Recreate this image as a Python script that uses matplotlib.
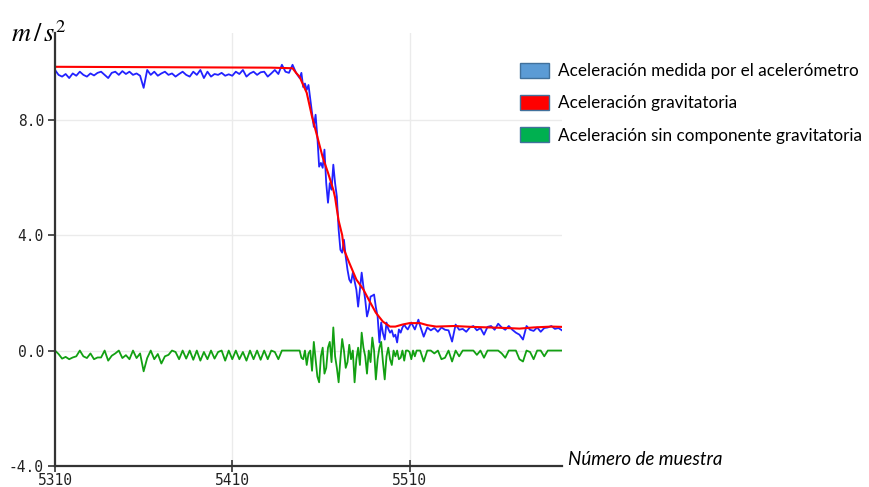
import matplotlib
matplotlib.use('Agg')
import matplotlib.pyplot as plt
from matplotlib.patches import Patch
from matplotlib.ticker import FormatStrFormatter

# sample numbers / values
blue_x = [5310, 5312, 5314, 5316, 5318, 5320, 5322, 5324, 5326, 5328,
          5330, 5332, 5334, 5336, 5338, 5340, 5342, 5344, 5346, 5348,
          5350, 5352, 5354, 5356, 5358, 5360, 5362, 5364, 5366, 5368,
          5370, 5372, 5374, 5376, 5378, 5380, 5382, 5384, 5386, 5388,
          5390, 5392, 5394, 5396, 5398, 5400, 5402, 5404, 5406, 5408,
          5410, 5412, 5414, 5416, 5418, 5420, 5422, 5424, 5426, 5428,
          5430, 5432, 5434, 5436, 5438, 5440, 5442, 5444, 5446,
          5448, 5449, 5450, 5451, 5452, 5453, 5454, 5455, 5456, 5457,
          5458, 5459, 5460, 5461, 5462, 5463, 5464, 5465, 5466, 5467,
          5468, 5469, 5470, 5471, 5472, 5473, 5474, 5475, 5476, 5477,
          5478, 5479, 5480, 5481, 5482, 5483, 5484, 5485, 5486, 5487,
          5488, 5489, 5490, 5491, 5492, 5493, 5494, 5495, 5496, 5497,
          5498, 5499, 5500, 5501, 5502, 5503, 5504, 5505, 5506, 5507,
          5508, 5509, 5510, 5511, 5512, 5513, 5514, 5515,
          5516, 5518, 5520, 5522, 5524, 5526, 5528, 5530, 5532, 5534,
          5536, 5538, 5540, 5542, 5544, 5546, 5548, 5550, 5552, 5554,
          5556, 5558, 5560, 5562, 5564, 5566, 5568, 5570, 5572, 5574,
          5576, 5578, 5580, 5582, 5584, 5586, 5588, 5590, 5592, 5594, 5596]
blue_y = [9.72, 9.55, 9.49, 9.58, 9.44, 9.60, 9.52, 9.66, 9.55, 9.49,
          9.60, 9.53, 9.62, 9.66, 9.55, 9.44, 9.62, 9.66, 9.55, 9.68,
          9.58, 9.66, 9.55, 9.60, 9.52, 9.10, 9.72, 9.55, 9.66, 9.52,
          9.60, 9.66, 9.55, 9.60, 9.49, 9.58, 9.66, 9.55, 9.49, 9.66,
          9.55, 9.72, 9.44, 9.66, 9.49, 9.58, 9.55, 9.62, 9.52, 9.57,
          9.52, 9.66, 9.58, 9.72, 9.49, 9.60, 9.66, 9.55, 9.64, 9.66,
          9.49, 9.60, 9.72, 9.58, 9.90, 9.66, 9.62, 9.90, 9.62,
          9.44, 9.62, 9.13, 9.25, 9.03, 9.20, 8.70, 8.23, 7.75, 8.17,
          7.40, 6.37, 6.50, 6.33, 6.96, 5.80, 5.12, 5.80, 5.57, 6.44,
          5.80, 5.33, 4.19, 3.49, 3.39, 3.84, 3.25, 2.80, 2.46, 2.35,
          2.70, 2.40, 2.11, 1.52, 2.10, 2.70, 2.20, 1.76, 1.18, 1.42,
          1.87, 1.90, 1.94, 1.50, 1.18, 0.28, 0.97, 0.60, 0.38, 0.97,
          0.75, 0.62, 0.70, 0.48, 0.55, 0.28, 0.73, 0.62, 0.80, 0.90,
          0.80, 0.73, 0.85, 0.97, 0.85, 0.73, 0.90, 1.07,
          0.85, 0.48, 0.80, 0.70, 0.78, 0.65, 0.80, 0.72, 0.70, 0.31,
          0.90, 0.72, 0.75, 0.65, 0.80, 0.85, 0.70, 0.78, 0.55, 0.82,
          0.85, 0.72, 0.93, 0.80, 0.72, 0.85, 0.72, 0.62, 0.55, 0.38,
          0.85, 0.72, 0.68, 0.80, 0.65, 0.78, 0.80, 0.85, 0.75, 0.78, 0.70]

red_x = [5310, 5432, 5444, 5446, 5448, 5450, 5452, 5455, 5458, 5461,
         5464, 5467, 5468, 5469, 5470, 5472, 5473, 5476, 5480, 5484,
         5487, 5491, 5495, 5499, 5502, 5506, 5510, 5516, 5520, 5525,
         5535, 5545, 5555, 5565, 5572, 5580, 5590, 5596]
red_y = [9.83, 9.80, 9.78, 9.62, 9.48, 9.20, 8.93, 8.10, 7.40, 6.70,
         6.16, 5.57, 5.30, 4.90, 4.50, 4.00, 3.50, 3.04, 2.46, 2.11,
         1.76, 1.31, 1.00, 0.83, 0.83, 0.90, 0.95, 0.95, 0.88, 0.83,
         0.85, 0.82, 0.80, 0.78, 0.76, 0.80, 0.83, 0.82]

green_x = [5310, 5312, 5314, 5316, 5318, 5320, 5322, 5324, 5326, 5328,
           5330, 5332, 5334, 5336, 5338, 5340, 5342, 5344, 5346, 5348,
           5350, 5352, 5354, 5356, 5358, 5360, 5362, 5364, 5366, 5368,
           5370, 5372, 5374, 5376, 5378, 5380, 5382, 5384, 5386, 5388,
           5390, 5392, 5394, 5396, 5398, 5400, 5402, 5404, 5406, 5408,
           5410, 5412, 5414, 5416, 5418, 5420, 5422, 5424, 5426, 5428,
           5430, 5432, 5434, 5436, 5438, 5440, 5442, 5444, 5446,
           5447, 5448, 5449, 5450, 5451, 5452, 5453, 5454, 5455, 5456,
           5457, 5458, 5459, 5460, 5461, 5462, 5463, 5464, 5465, 5466,
           5467, 5468, 5469, 5470, 5471, 5472, 5473, 5474, 5475, 5476,
           5477, 5478, 5479, 5480, 5481, 5482, 5483, 5484, 5485, 5486,
           5487, 5488, 5489, 5490, 5491, 5492, 5493, 5494, 5495, 5496,
           5497, 5498, 5499, 5500, 5501, 5502, 5503, 5504, 5505, 5506,
           5507, 5508, 5509, 5510, 5511, 5512, 5513, 5514, 5515,
           5516, 5518, 5520, 5522, 5524, 5526, 5528, 5530, 5532, 5534,
           5536, 5538, 5540, 5542, 5544, 5546, 5548, 5550, 5552, 5554,
           5556, 5558, 5560, 5562, 5564, 5566, 5568, 5570, 5572, 5574,
           5576, 5578, 5580, 5582, 5584, 5586, 5588, 5590, 5592, 5594, 5596]
green_y = [0.0, -0.12, -0.28, -0.22, -0.30, -0.24, -0.20, 0.0, -0.20, -0.26,
           -0.10, -0.30, -0.24, -0.24, 0.0, -0.35, -0.18, -0.10, 0.0, -0.26,
           -0.16, -0.30, 0.0, -0.26, -0.10, -0.72, -0.26, 0.0, -0.30, -0.12,
           -0.45, -0.20, -0.15, 0.0, -0.05, -0.30, 0.0, -0.28, 0.0, -0.32,
           0.0, -0.35, -0.05, -0.30, 0.0, -0.28, -0.05, 0.0, -0.35, 0.0,
           -0.30, 0.0, -0.30, -0.05, -0.35, 0.0, -0.30, 0.0, -0.32, 0.0,
           -0.30, 0.0, -0.05, -0.30, 0.0, 0.0, 0.0, 0.0, 0.0,
           0.0, 0.0, -0.25, -0.30, 0.0, -0.50, -0.10, 0.0, -0.70, 0.30,
           -0.30, -0.90, -1.10, -0.20, 0.10, -0.80, -0.60, 0.10, 0.30, -0.40,
           0.80, -0.20, -0.60, -1.10, -0.30, 0.40, 0.0, -0.60, -0.40, 0.20,
           -0.30, 0.0, -1.10, -0.30, 0.10, -0.50, 0.62, 0.10, -0.20, -0.80,
           0.0, -0.40, 0.45, 0.0, -1.00, -0.30, 0.10, 0.30, -0.40, -1.00,
           -0.20, 0.10, -0.30, -0.50, 0.0, -0.20, 0.0, -0.30, -0.25, 0.0,
           -0.35, 0.0, 0.0, -0.05, -0.30, 0.0, -0.20, 0.0, 0.0,
           0.0, -0.38, 0.0, 0.0, -0.10, 0.0, -0.30, -0.25, 0.0, -0.38,
           0.0, -0.20, 0.0, 0.0, 0.0, 0.0, -0.15, 0.0, -0.25, 0.0,
           0.0, 0.0, 0.0, -0.10, -0.25, 0.0, 0.0, 0.0, -0.30, -0.38,
           0.0, -0.05, -0.30, 0.0, 0.0, -0.20, 0.0, 0.0, 0.0, 0.0, 0.0]

legend_labels = ['Aceleración medida por el acelerómetro',
                 'Aceleración gravitatoria',
                 'Aceleración sin componente gravitatoria']
legend_colors = ['#5b9bd5', '#ff0000', '#00b050']

x_ticks = [5310, 5410, 5510]
y_ticks = [-4, 0, 4, 8]

fig = plt.figure(figsize=(8.69, 4.87), dpi=100)
ax = fig.add_axes([0.0633, 0.0431, 0.5834, 0.8891])

ax.plot(green_x, green_y, color='#12a012', lw=1.3)
ax.plot(blue_x, blue_y, color='#2222ff', lw=1.3)
ax.plot(red_x, red_y, color='#ff0000', lw=1.5)

ax.set_xlim(5310, 5596)
ax.set_ylim(-4, 11)
ax.set_xticks(x_ticks)
ax.set_yticks(y_ticks)
ax.yaxis.set_major_formatter(FormatStrFormatter('%.1f'))
ax.grid(True, color='#ebebeb', lw=1)
ax.set_axisbelow(True)

for s in ['top', 'right']:
    ax.spines[s].set_visible(False)
for s in ['left', 'bottom']:
    ax.spines[s].set_color('#333333')
    ax.spines[s].set_linewidth(1.6)

ax.tick_params(axis='y', direction='out', length=5, width=1.2, color='#333333',
               labelsize=10.5, pad=3)
ax.tick_params(axis='x', direction='inout', length=8, width=1.2, color='#333333',
               labelsize=10.5, pad=1)
for lbl in ax.get_xticklabels() + ax.get_yticklabels():
    lbl.set_family('DejaVu Sans Mono')
    lbl.set_color('#222222')

plt.rcParams['mathtext.fontset'] = 'stix'
fig.text(0.013, 0.902, r'$m\,/\,s^2$', fontsize=19, ha='left', va='bottom')
fig.text(0.654, 0.056, 'Número de muestra', fontsize=13.5, style='italic',
         family=['Lato', 'DejaVu Sans'], ha='left', va='center')

handles = [Patch(facecolor=c, edgecolor='#41719c', lw=1) for c in legend_colors]
fig.legend(handles, legend_labels, loc='upper left', bbox_to_anchor=(0.581, 0.902),
           frameon=False, handlelength=1.7, handleheight=0.95, labelspacing=0.93,
           handletextpad=0.5, prop={'family': ['Lato', 'DejaVu Sans'], 'size': 12.3})

fig.savefig('out.png', dpi=100)
